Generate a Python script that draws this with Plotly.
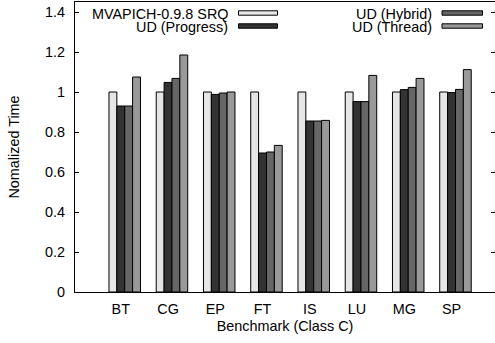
import plotly.graph_objects as go

# Normalized run time of the NAS benchmarks (Class C)
benchmarks = ["BT", "CG", "EP", "FT", "IS", "LU", "MG", "SP"]
series_names = ["MVAPICH-0.9.8 SRQ", "UD (Progress)", "UD (Hybrid)", "UD (Thread)"]
srq = [1.0, 1.0, 1.0, 1.0, 1.0, 1.0, 1.0, 1.0]
ud_progress = [0.93, 1.048, 0.988, 0.695, 0.855, 0.952, 1.012, 0.997]
ud_hybrid = [0.93, 1.068, 0.995, 0.70, 0.855, 0.952, 1.023, 1.013]
ud_thread = [1.075, 1.185, 1.0, 0.733, 0.858, 1.083, 1.068, 1.112]
y_ticks = [0, 0.2, 0.4, 0.6, 0.8, 1.0, 1.2, 1.4]
y_tick_text = ["0", "0.2", "0.4", "0.6", "0.8", "1", "1.2", "1.4"]

series_values = [srq, ud_progress, ud_hybrid, ud_thread]
colors = ["#e6e6e6", "#333333", "#666666", "#999999"]

FONT = "Liberation Sans, Arial, Helvetica, sans-serif"
FS = 14.4
W, H = 495, 343
ML, MR, MT, MB = 75, 0, 2, 51

bar_w = 1 / 6
fig = go.Figure()
for i, (name, vals, col) in enumerate(zip(series_names, series_values, colors)):
    xs = [j + (i - 1) * bar_w for j in range(len(benchmarks))]
    fig.add_trace(go.Bar(
        x=xs, y=vals, width=bar_w, name=name,
        marker=dict(color=col, line=dict(color="#000000", width=1)),
        showlegend=False,
    ))

# gnuplot-style key: right-aligned label followed by a sample box
plot_w = W - ML - MR
plot_h = H - MT - MB
def px_x(p):
    return (p - ML) / plot_w
def px_y(p):
    return (H - MB - p) / plot_h

key_rows = [
    (0, 230.0, 238.5, 277.5, 13),
    (1, 230.0, 238.5, 277.5, 26),
    (2, 433.5, 442.0, 482.5, 13),
    (3, 433.5, 442.0, 482.5, 26),
]
for idx, tx, sx0, sx1, yc in key_rows:
    fig.add_annotation(
        x=px_x(tx), y=px_y(yc + 0.5), xref="paper", yref="paper",
        text=series_names[idx], showarrow=False,
        xanchor="right", yanchor="middle",
        font=dict(family=FONT, size=FS, color="#000000"),
    )
    fig.add_shape(
        type="rect", xref="paper", yref="paper",
        x0=px_x(sx0), x1=px_x(sx1), y0=px_y(yc + 2.2), y1=px_y(yc - 2.2),
        fillcolor=colors[idx], line=dict(color="#000000", width=1),
    )

fig.update_layout(
    width=W, height=H,
    margin=dict(l=ML, r=MR, t=MT, b=MB),
    paper_bgcolor="white", plot_bgcolor="white",
    barmode="overlay",
    font=dict(family=FONT, size=FS, color="#000000"),
    xaxis=dict(
        range=[-0.969, 7.92],
        tickmode="array", tickvals=list(range(len(benchmarks))), ticktext=benchmarks,
        ticks="", showgrid=False, zeroline=False,
        showline=True, linecolor="#000000", linewidth=1, mirror=True,
        ticklabelstandoff=4,
        title=dict(text="Benchmark (Class C)", standoff=4,
                   font=dict(family=FONT, size=FS)),
    ),
    yaxis=dict(
        range=[0, 1.45],
        tickmode="array", tickvals=y_ticks, ticktext=y_tick_text,
        ticks="inside", ticklen=4, tickcolor="#000000", tickwidth=1,
        showgrid=False, zeroline=False,
        showline=True, linecolor="#000000", linewidth=1, mirror="ticks",
        ticklabelstandoff=6,
        title=dict(text="Nomalized Time", standoff=22,
                   font=dict(family=FONT, size=FS)),
    ),
)

fig.write_html("out.html")
